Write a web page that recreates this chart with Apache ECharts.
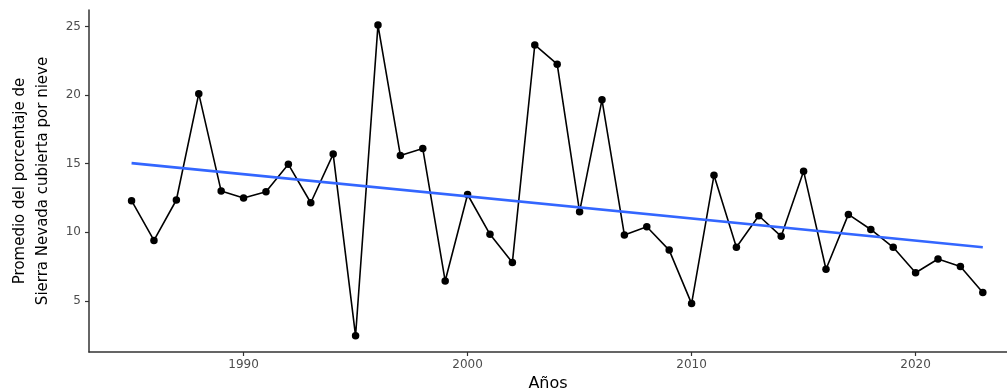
<!DOCTYPE html>
<html>
<head>
<meta charset="utf-8">
<script src="https://cdn.jsdelivr.net/npm/echarts@6/dist/echarts.min.js"></script>
<style>
  html, body { margin: 0; padding: 0; background: #ffffff; }
  #chart { width: 1007px; height: 388px; }
</style>
</head>
<body>
<div id="chart"></div>
<script>
// Annual mean snow-covered share of Sierra Nevada (%)
const years = [1985, 1986, 1987, 1988, 1989, 1990, 1991, 1992, 1993, 1994,
               1995, 1996, 1997, 1998, 1999, 2000, 2001, 2002, 2003, 2004,
               2005, 2006, 2007, 2008, 2009, 2010, 2011, 2012, 2013, 2014,
               2015, 2016, 2017, 2018, 2019, 2020, 2021, 2022, 2023];
const snowCover = [12.3, 9.4, 12.35, 20.1, 13.0, 12.5, 12.95, 14.95, 12.15, 15.7,
                   2.45, 25.1, 15.6, 16.1, 6.45, 12.75, 9.85, 7.8, 23.65, 22.25,
                   11.5, 19.65, 9.8, 10.4, 8.7, 4.8, 14.15, 8.9, 11.2, 9.7,
                   14.45, 7.3, 11.3, 10.2, 8.9, 7.05, 8.05, 7.5, 5.6];
// Linear trend endpoints (1985 and 2023)
const trendYears = [1985, 2023];
const trendValues = [15.04, 8.91];
const xTicks = [1990, 2000, 2010, 2020];
const yTicks = [5, 10, 15, 20, 25];

const chart = echarts.init(document.getElementById('chart'), null, { renderer: 'canvas' });
const font = '"DejaVu Sans", "Liberation Sans", Arial, sans-serif';

chart.setOption({
  animation: false,
  backgroundColor: '#ffffff',
  grid: { left: 89, right: 0, top: 10, bottom: 36, containLabel: false, outerBoundsMode: 'none' },
  xAxis: {
    type: 'value',
    min: 1983.1,
    max: 2024.08,
    name: 'Años',
    nameLocation: 'middle',
    nameGap: 16,
    nameTextStyle: { color: '#000000', fontSize: 16, fontFamily: font },
    axisLine: { show: true, lineStyle: { color: '#333333', width: 1.5 } },
    axisTick: { show: true, length: 4, lineStyle: { color: '#333333', width: 1.2 }, customValues: xTicks },
    axisLabel: {
      color: '#4d4d4d', fontSize: 12, fontFamily: font, margin: 7, customValues: xTicks,
      formatter: v => String(v)
    },
    splitLine: { show: false }
  },
  yAxis: {
    type: 'value',
    min: 1.27,
    max: 26.2,
    name: 'Promedio del porcentaje de\nSierra Nevada cubierta por nieve',
    nameLocation: 'middle',
    nameGap: 32,
    nameTextStyle: { color: '#000000', fontSize: 15, lineHeight: 23, fontFamily: font },
    axisLine: { show: true, lineStyle: { color: '#333333', width: 1.5 } },
    axisTick: { show: true, length: 4, lineStyle: { color: '#333333', width: 1.2 }, customValues: yTicks },
    axisLabel: {
      color: '#4d4d4d', fontSize: 12, fontFamily: font, margin: 8, customValues: yTicks,
      formatter: v => String(v)
    },
    splitLine: { show: false }
  },
  series: [
    {
      type: 'line',
      data: years.map((y, i) => [y, snowCover[i]]),
      symbol: 'circle',
      symbolSize: 7.5,
      lineStyle: { color: '#000000', width: 1.6 },
      itemStyle: { color: '#000000' },
      z: 2
    },
    {
      type: 'line',
      data: trendYears.map((y, i) => [y, trendValues[i]]),
      symbol: 'none',
      lineStyle: { color: '#3366FF', width: 2.6 },
      z: 3
    }
  ]
});
</script>
</body>
</html>
